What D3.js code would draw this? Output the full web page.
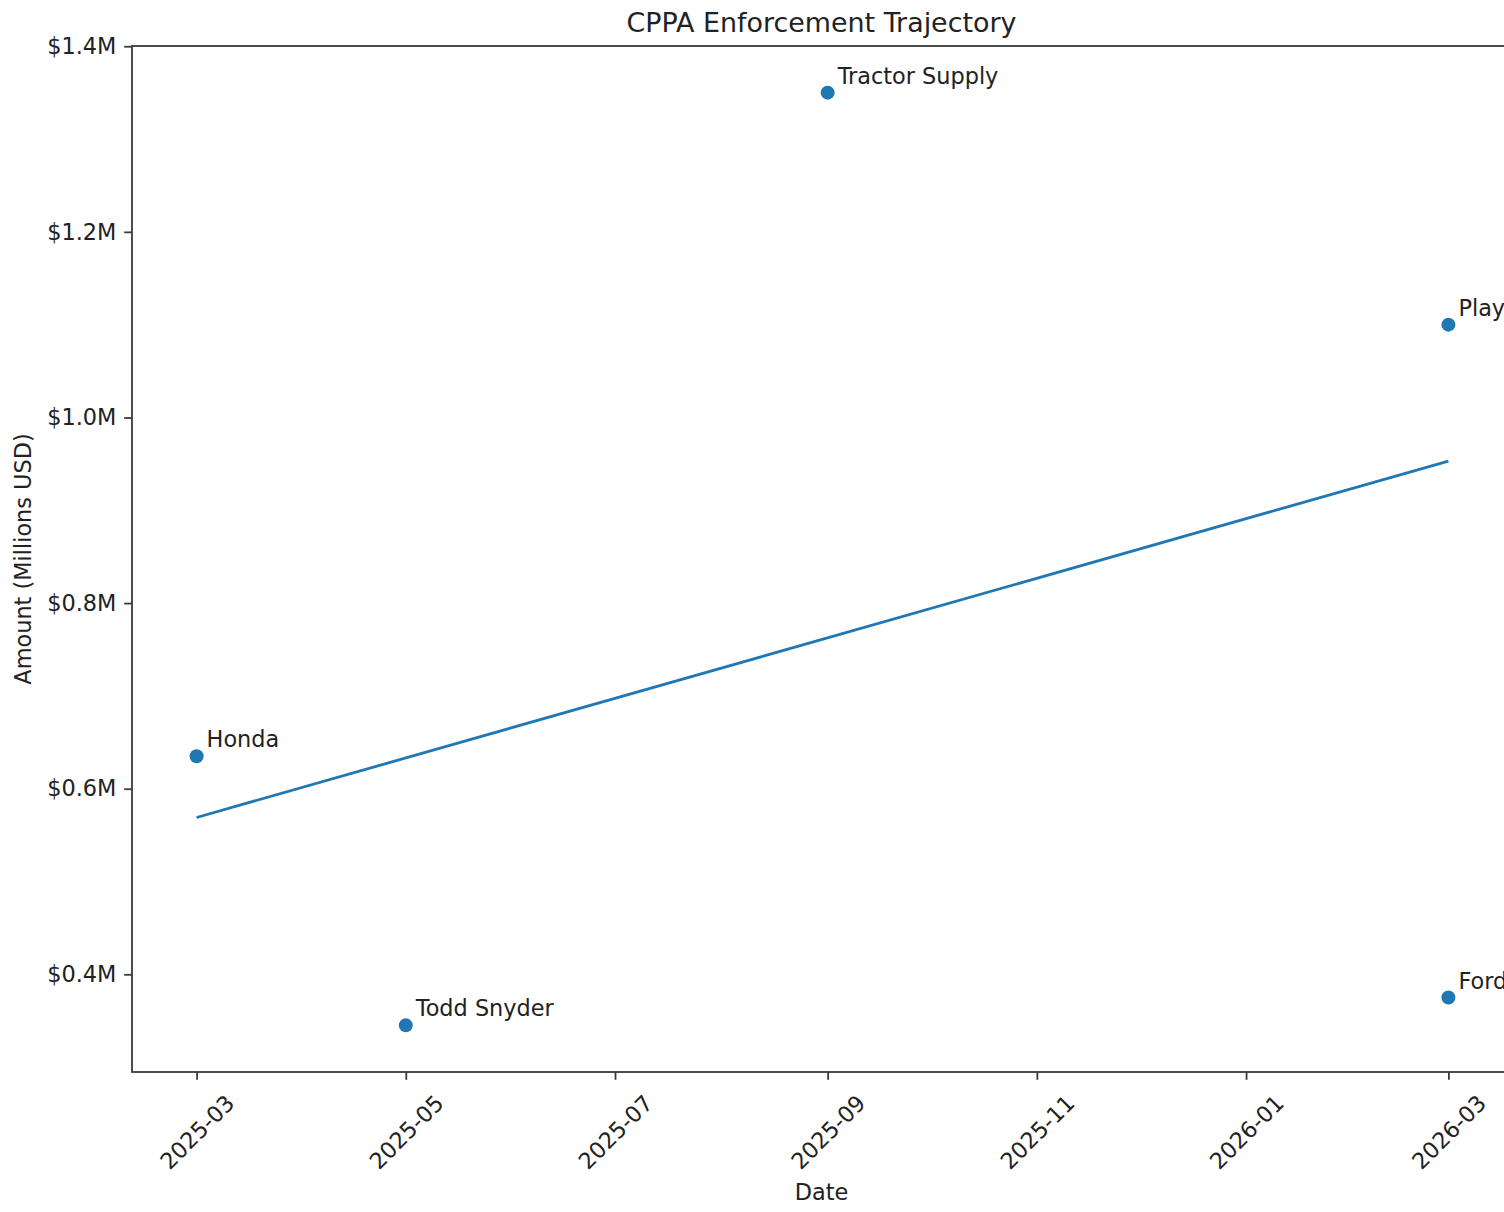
<!DOCTYPE html>
<html>
<head>
<meta charset="utf-8">
<script src="https://cdn.jsdelivr.net/npm/d3@7"></script>
<style>
  body { margin: 0; background: #fff; }
  svg text { font-family: "DejaVu Sans", sans-serif; fill: #222; }
</style>
</head>
<body>
<div id="wrapper"></div>
<script>
// data
const companies = ["Honda", "Todd Snyder", "Tractor Supply", "PlayOn Mobile", "Ford"]
const dates = ["2025-03-01", "2025-05-01", "2025-09-01", "2026-03-01", "2026-03-01"]
const amounts = [0.635, 0.345, 1.35, 1.1, 0.375]
const trendDates = ["2025-03-01", "2026-03-01"]
const trendValues = [0.569, 0.953]
const yTicks = [0.4, 0.6, 0.8, 1.0, 1.2, 1.4]
const xTicks = ["2025-03-01", "2025-05-01", "2025-07-01", "2025-09-01", "2025-11-01", "2026-01-01", "2026-03-01"]

const parseDate = d3.utcParse("%Y-%m-%d")
const dataset = companies.map((c, i) => ({ name: c, date: parseDate(dates[i]), amount: amounts[i] }))
const trend = trendDates.map((d, i) => ({ date: parseDate(d), amount: trendValues[i] }))

const xAccessor = d => d.date
const yAccessor = d => d.amount

const spineX = 132
let dimensions = {
    width: 1504,
    height: 1212,
    margin: { top: 46, left: 134, bottom: 140, right: -7 },
}
dimensions.boundedWidth = dimensions.width - dimensions.margin.left - dimensions.margin.right
dimensions.boundedHeight = dimensions.height - dimensions.margin.top - dimensions.margin.bottom
const spineOffset = spineX - dimensions.margin.left

const wrapper = d3.select("#wrapper")
    .append("svg")
    .attr("width", dimensions.width)
    .attr("height", dimensions.height)

const bounds = wrapper.append("g")
    .attr("transform", `translate(${dimensions.margin.left},${dimensions.margin.top})`)

// matplotlib-like 5% margins
const pad = (ext) => { const m = (ext[1] - ext[0]) * 0.05; return [ext[0] - m, ext[1] + m] }
const xExt = d3.extent(dataset, d => +xAccessor(d))
const xScaler = d3.scaleUtc()
    .domain(pad(xExt).map(v => new Date(v)))
    .range([0, dimensions.boundedWidth])
const yScaler = d3.scaleLinear()
    .domain(pad(d3.extent(dataset, yAccessor)))
    .range([dimensions.boundedHeight, 0])

const axisColor = "#3a3a3a"
const tickSize = 7.8

// trend line
bounds.append("path")
    .datum(trend)
    .attr("d", d3.line().x(d => xScaler(xAccessor(d))).y(d => yScaler(yAccessor(d))))
    .attr("fill", "none")
    .attr("stroke", "#1f77b4")
    .attr("stroke-width", 2.8)

// points
bounds.selectAll("circle")
    .data(dataset)
    .enter()
    .append("circle")
    .attr("cx", d => xScaler(xAccessor(d)))
    .attr("cy", d => yScaler(yAccessor(d)))
    .attr("r", 7)
    .attr("fill", "#1f77b4")

// annotations
bounds.selectAll("text.label")
    .data(dataset)
    .enter()
    .append("text")
    .attr("class", "label")
    .attr("x", d => xScaler(xAccessor(d)) + 10)
    .attr("y", d => yScaler(yAccessor(d)) - 9)
    .attr("font-size", "22.4px")
    .text(d => d.name)

// y axis
const yAxisGen = d3.axisLeft(yScaler)
    .tickValues(yTicks)
    .tickSize(tickSize)
    .tickPadding(7.8)
    .tickFormat(d => "$" + d.toFixed(1) + "M")
const yAxis = bounds.append("g")
    .attr("transform", `translate(${spineOffset},0)`)
    .call(yAxisGen)
yAxis.select(".domain").remove()
yAxis.selectAll(".tick line").attr("stroke", axisColor).attr("stroke-width", 1.8)
yAxis.selectAll(".tick text").attr("font-size", "22.4px").attr("fill", "#222")

// x axis
const xAxisGen = d3.axisBottom(xScaler)
    .tickValues(xTicks.map(parseDate))
    .tickSize(tickSize)
    .tickFormat(d3.utcFormat("%Y-%m"))
const xAxis = bounds.append("g")
    .attr("transform", `translate(0,${dimensions.boundedHeight})`)
    .call(xAxisGen)
xAxis.select(".domain").remove()
xAxis.selectAll(".tick line").attr("stroke", axisColor).attr("stroke-width", 1.8)
xAxis.selectAll(".tick text")
    .attr("font-size", "22.4px")
    .attr("fill", "#222")
    .attr("y", 0)
    .attr("dy", null)
    .attr("text-anchor", "middle")
    .attr("dominant-baseline", "central")
    .attr("transform", "translate(0,60) rotate(-45)")

// spines
bounds.append("rect")
    .attr("x", spineOffset)
    .attr("y", 0)
    .attr("width", dimensions.boundedWidth - spineOffset)
    .attr("height", dimensions.boundedHeight)
    .attr("fill", "none")
    .attr("stroke", axisColor)
    .attr("stroke-width", 1.8)

// titles
const centerX = spineX + (dimensions.width - dimensions.margin.right - spineX) / 2
wrapper.append("text")
    .attr("x", centerX)
    .attr("y", 32)
    .attr("text-anchor", "middle")
    .attr("font-size", "26.9px")
    .text("CPPA Enforcement Trajectory")

wrapper.append("text")
    .attr("x", centerX)
    .attr("y", 1200)
    .attr("text-anchor", "middle")
    .attr("font-size", "22.4px")
    .text("Date")

wrapper.append("text")
    .attr("transform", `translate(31,${dimensions.margin.top + dimensions.boundedHeight / 2}) rotate(-90)`)
    .attr("text-anchor", "middle")
    .attr("font-size", "22.4px")
    .text("Amount (Millions USD)")
</script>
</body>
</html>
